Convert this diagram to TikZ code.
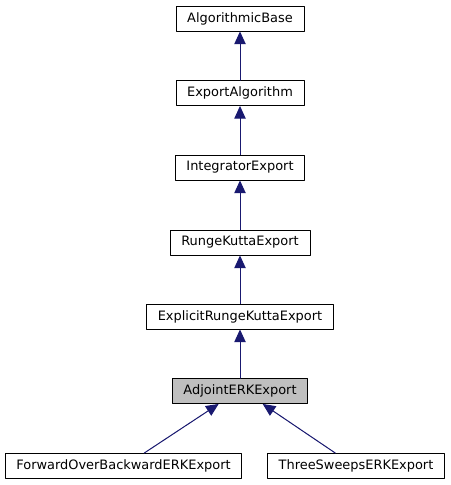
\documentclass[tikz,border=0pt]{standalone}
\usepackage{fontspec}
\setmainfont{DejaVu Sans}
\usepackage{tikz}
\usetikzlibrary{arrows.meta,positioning}
\definecolor{edgeblue}{rgb}{0.1,0.1,0.44}
\definecolor{curgray}{rgb}{0.75,0.75,0.75}

\begin{document}
\begin{tikzpicture}[line cap=round,line join=round,>={Triangle[length=9.5pt,width=8.5pt]},x=0.75pt,y=-0.75pt,
    cls/.style={draw=black,line width=0.6pt,fill=white,inner xsep=8.4pt,inner ysep=0pt,minimum height=18.8pt,font=\fontsize{9.7}{11}\selectfont},
    inh/.style={<-,draw=edgeblue,fill=edgeblue,line width=0.75pt}]
         \useasboundingbox (0,0) rectangle (450,485);
         \node[cls] (base) at (240,18.5) {AlgorithmicBase};
         \node[cls] (expalg) at (240,93) {ExportAlgorithm};
         \node[cls] (integ) at (240,167.5) {IntegratorExport};
         \node[cls] (rk) at (240,242.5) {RungeKuttaExport};
         \node[cls] (erk) at (240,316.5) {ExplicitRungeKuttaExport};
         \node[cls,fill=curgray] (adj) at (240,391) {AdjointERKExport};
         \node[cls] (fob) at (123.5,466) {ForwardOverBackwardERKExport};
         \node[cls] (tse) at (356,466) {ThreeSweepsERKExport};

         \draw[inh] (base) -- (expalg);
         \draw[inh] (expalg) -- (integ);
         \draw[inh] (integ) -- (rk);
         \draw[inh] (rk) -- (erk);
         \draw[inh] (erk) -- (adj);
         \draw[inh] ([xshift=-16pt]adj.south) -- ([xshift=15.5pt]fob.north);
         \draw[inh] ([xshift=17pt]adj.south) -- ([xshift=-15.5pt]tse.north);
       \end{tikzpicture}
\end{document}
